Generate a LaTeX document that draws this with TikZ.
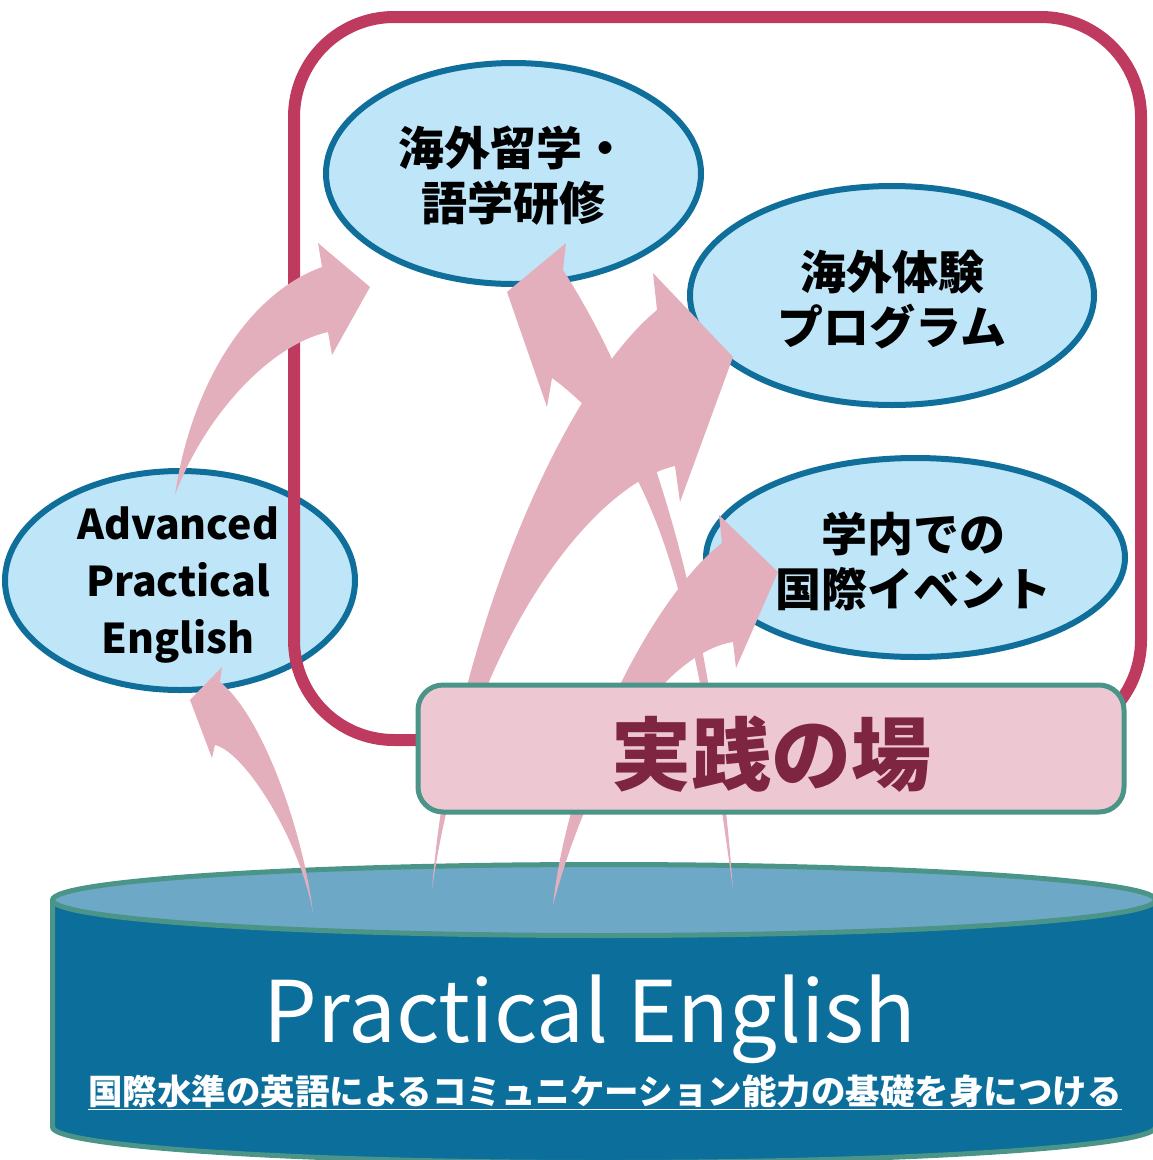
\documentclass[tikz,border=0pt]{standalone}
\usepackage{fontspec}
\setmainfont{Noto Sans CJK JP}
\usepackage{xcolor}
\usepackage{tikz}
\usetikzlibrary{shapes.geometric, positioning}

\definecolor{skyfill}{HTML}{BEE6F8}
\definecolor{skyline}{HTML}{0F6E9A}
\definecolor{framered}{HTML}{BE3A5E}
\definecolor{arrowpink}{HTML}{E4AFBC}
\definecolor{fieldfill}{HTML}{EDC8D2}
\definecolor{rimteal}{HTML}{4A9488}
\definecolor{fieldtext}{HTML}{7E2541}
\definecolor{basetop}{HTML}{6DA8C6}
\definecolor{baseside}{HTML}{0C6E9A}

\tikzset{
  bubble/.style={ellipse, draw=skyline, fill=skyfill, line width=6pt, inner sep=0pt},
  bubbletext/.style={align=center, font=\fontsize{46}{55}\selectfont\bfseries},
  bendarrow/.style={fill=arrowpink},
}

\begin{document}
\begin{tikzpicture}[x=1pt, y=-1pt]
  \useasboundingbox (0,0) rectangle (1152,1160);

  \fill[baseside] (52.5,900) -- (52.5,1127) arc[start angle=180, end angle=0, x radius=551.5, y radius=35.5] -- (1155.5,900) -- cycle;
  \draw[rimteal, line width=5pt] (52.5,900) -- (52.5,1127) arc[start angle=180, end angle=0, x radius=551.5, y radius=35.5];
  \node[ellipse, draw=rimteal, fill=basetop, line width=5pt, inner sep=0pt, minimum width=1103pt, minimum height=71pt] (base) at (604,900) {};

  \node[bubble, minimum width=350pt, minimum height=219pt] (adv) at (180,580.5) {};
  \draw[framered, line width=12pt, rounded corners=100pt] (294,17) rectangle (1141,740);
  \node[bubble, minimum width=375pt, minimum height=221pt] (study) at (513.5,173.5) {};
  \node[bubble, minimum width=404pt, minimum height=219pt] (prog) at (892,295.5) {};
  \node[bubble, minimum width=419pt, minimum height=199pt] (event) at (915.5,557.5) {};

  \coordinate (t1) at (313,913);
  \coordinate (t2) at (432,890);
  \coordinate (t3) at (553,905);
  \coordinate (t4) at (733,890);

  % curved block arrows
  \fill[bendarrow] (175,495) .. controls (190,390) and (245,295) .. (322,267) -- (318,243) -- (370,287) -- (332,355) -- (328,332) .. controls (270,345) and (205,415) .. (175,495) -- cycle;
  \fill[bendarrow] (t1) .. controls (303,830) and (262,715) .. (220,682) -- (222,667) -- (190,700) -- (212,758) -- (215,745) .. controls (245,752) and (300,840) .. (t1) -- cycle;
  \fill[bendarrow] (t4) .. controls (715,640) and (660,420) .. (563,270) -- (566,243) -- (507,292) -- (547,407) -- (552,378) .. controls (650,450) and (690,570) .. (t4) -- cycle;
  \fill[bendarrow] (t2) .. controls (450,650) and (560,390) .. (657,310) -- (653,273) -- (733,357) -- (680,502) -- (675,466) .. controls (590,485) and (465,650) .. (t2) -- cycle;
  \fill[bendarrow] (t3) .. controls (570,750) and (660,590) .. (722,543) -- (719,515) -- (778,572) -- (736,668) -- (733,642) .. controls (680,650) and (600,730) .. (t3) -- cycle;

  \node[draw=rimteal, fill=fieldfill, line width=5pt, rounded corners=25pt, minimum width=706pt, minimum height=127pt] (field) at (771,748.5) {};
  \node[text=fieldtext, font=\fontsize{80}{80}\selectfont\bfseries] (fieldlbl) at (771,754) {実践の場};

  \node[bubbletext] (studylbl) at (513,175.5) {海外留学・\\語学研修};
  \node[bubbletext] (proglbl) at (892,299.5) {海外体験\\プログラム};
  \node[bubbletext] (eventlbl) at (913,561.5) {学内での\\国際イベント};
  \node[align=center, font=\fontsize{41}{57}\selectfont\bfseries] (advlbl) at (178,585) {Advanced\\Practical\\English};

  \node[anchor=base, text=white, font=\fontsize{85}{85}\selectfont] (title) at (590,1042) {Practical English};
  \node[anchor=base, text=white, font=\fontsize{34.5}{34.5}\selectfont\bfseries] (subtitle) at (605,1104) {\underline{国際水準の英語によるコミュニケーション能力の基礎を身につける}};
\end{tikzpicture}
\end{document}
